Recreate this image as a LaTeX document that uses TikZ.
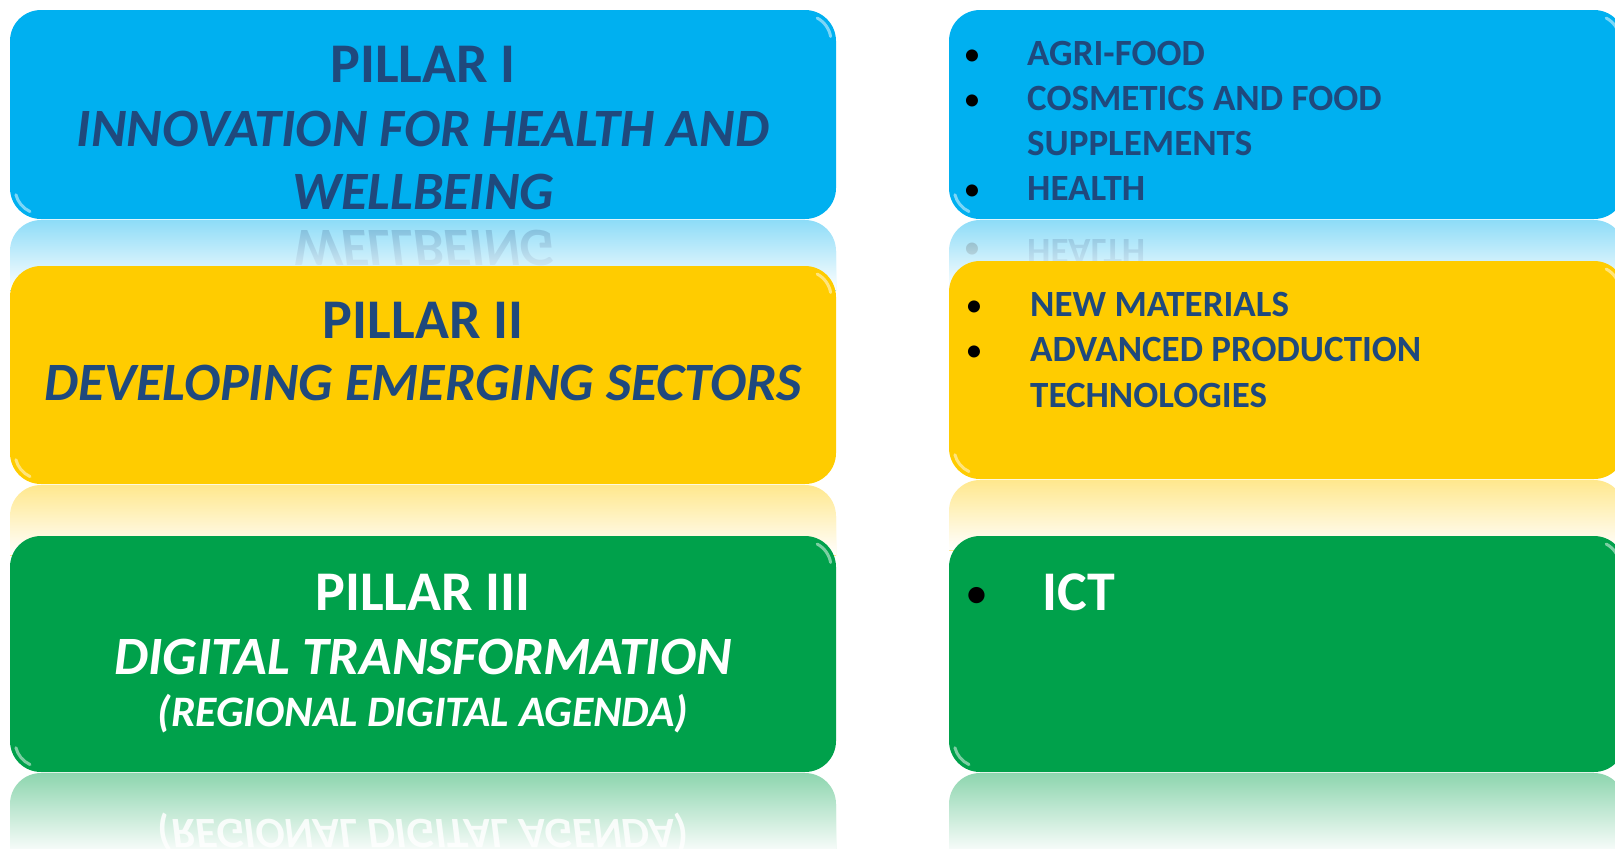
\documentclass[tikz,border=0pt]{standalone}
\usepackage{fontspec}
\setmainfont{Carlito}
\usetikzlibrary{fadings,calc}
\definecolor{cblue}{HTML}{00B0F0}
\definecolor{cyellow}{HTML}{FFCC00}
\definecolor{cgreen}{HTML}{00A14B}
\definecolor{ctext}{HTML}{1F497D}
\tikzfading[name=reflfade, top color=transparent!100, bottom color=transparent!0]
\begin{document}
\begin{tikzpicture}[x=1pt,y=-1pt,
  pbox/.style={rounded corners=31pt},
  big/.style={anchor=base, inner sep=0pt, font=\fontsize{56}{60}\selectfont\bfseries},
  bigit/.style={anchor=base, inner sep=0pt, font=\fontsize{54}{60}\selectfont\bfseries\itshape},
  midit/.style={anchor=base, inner sep=0pt, font=\fontsize{43.5}{50}\selectfont\bfseries\itshape},
  item/.style={anchor=base west, inner sep=0pt, font=\fontsize{37}{40}\selectfont\bfseries, text=ctext},
  bul/.style={anchor=base, inner sep=0pt, font=\fontsize{34}{40}\selectfont, text=black},
  hl/.style={line width=3pt, line cap=round, opacity=0.75}]
\useasboundingbox (0,0) rectangle (1615,849);

% ---------- reflections ----------
\begin{scope}
  \clip (10,220) rectangle (836,290);
  \fill[cblue!45!white, pbox] (10,220) rectangle (836,429);
  \node[bigit, text=ctext, opacity=0.25] (rw) at (423,230) {\scalebox{1}[-1]{WELLBEING}};
  \fill[white, path fading=reflfade] (9,219) rectangle (837,290);
\end{scope}
\begin{scope}
  \clip (949,220) rectangle (1625,290);
  \fill[cblue!45!white, pbox] (949,220) rectangle (1625,429);
  \node[bul, opacity=0.25] (rhb) at (972,239) {\scalebox{1}[-1]{•}};
  \node[item, opacity=0.25] (rh) at (1027,239) {\scalebox{1}[-1]{HEALTH}};
  \fill[white, path fading=reflfade] (948,219) rectangle (1626,290);
\end{scope}
\begin{scope}
  \clip (10,485) rectangle (836,555);
  \fill[cyellow!45!white, pbox] (10,485) rectangle (836,703);
  \fill[white, path fading=reflfade] (9,484) rectangle (837,555);
\end{scope}
\begin{scope}
  \clip (949,480) rectangle (1625,550);
  \fill[cyellow!45!white, pbox] (949,480) rectangle (1625,698);
  \fill[white, path fading=reflfade] (948,479) rectangle (1626,550);
\end{scope}
\begin{scope}
  \clip (10,773) rectangle (836,849);
  \fill[cgreen!45!white, pbox] (10,773) rectangle (836,1009);
  \node[midit, text=white, opacity=0.85] (rr) at (423,819) {\scalebox{1}[-1]{(REGIONAL DIGITAL AGENDA)}};
  \fill[white, path fading=reflfade] (9,772) rectangle (837,855);
\end{scope}
\begin{scope}
  \clip (949,773) rectangle (1625,849);
  \fill[cgreen!45!white, pbox] (949,773) rectangle (1625,1009);
  \fill[white, path fading=reflfade] (948,772) rectangle (1626,855);
\end{scope}

% ---------- boxes ----------
\fill[cblue, pbox] (10,10) rectangle (836,219);
\fill[cyellow, pbox] (10,266) rectangle (836,484);
\fill[cgreen, pbox] (10,536) rectangle (836,772);
\fill[cblue, pbox] (949,10) rectangle (1625,219);
\fill[cyellow, pbox] (949,261) rectangle (1625,479);
\fill[cgreen, pbox] (949,536) rectangle (1625,772);

% glossy corner highlights
\foreach \xa/\ya/\xb/\yb/\c in {10/10/836/219/cblue, 10/266/836/484/cyellow, 10/536/836/772/cgreen,
                               949/10/1625/219/cblue, 949/261/1625/479/cyellow, 949/536/1625/772/cgreen}{
  \draw[hl, draw=\c!35!white] ($(\xb,\ya)+(-31,31)$) ++(-10:26) arc[start angle=-10, end angle=-62, radius=26];
  \draw[hl, draw=\c!35!white] ($(\xa,\yb)+(31,-31)$) ++(115:26) arc[start angle=115, end angle=165, radius=26];
}

% ---------- left texts ----------
\node[big, text=ctext] (p1) at (423,82) {PILLAR I};
\node[bigit, text=ctext] (p1a) at (423,146) {INNOVATION FOR HEALTH AND};
\node[bigit, text=ctext] (p1b) at (423,209) {WELLBEING};
\node[big, text=ctext] (p2) at (423,338) {PILLAR II};
\node[bigit, text=ctext] (p2a) at (423,400) {DEVELOPING EMERGING SECTORS};
\node[big, text=white] (p3) at (423,610) {PILLAR III};
\node[bigit, text=white] (p3a) at (423,674) {DIGITAL TRANSFORMATION};
\node[midit, text=white] (p3b) at (423,726) {(REGIONAL DIGITAL AGENDA)};

% ---------- right texts ----------
\node[bul] (b1) at (972,65) {•};
\node[item] (i1) at (1027,65) {AGRI-FOOD};
\node[bul] (b2) at (972,110) {•};
\node[item] (i2) at (1027,110) {COSMETICS AND FOOD};
\node[item] (i2b) at (1027,155) {SUPPLEMENTS};
\node[bul] (b3) at (972,200) {•};
\node[item] (i3) at (1027,200) {HEALTH};

\node[bul] (b4) at (974,316) {•};
\node[item] (i4) at (1030,316) {NEW MATERIALS};
\node[bul] (b5) at (974,361) {•};
\node[item] (i5) at (1030,361) {ADVANCED PRODUCTION};
\node[item] (i5b) at (1030,407) {TECHNOLOGIES};

\node[bul, font=\fontsize{46}{50}\selectfont] (b6) at (977,608) {•};
\node[big, anchor=base west, text=white] (i6) at (1042,610) {ICT};
\end{tikzpicture}
\end{document}
